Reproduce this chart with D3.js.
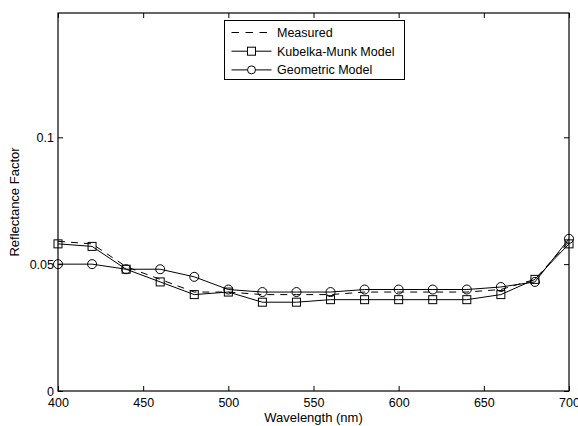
<!DOCTYPE html>
<html>
<head>
<meta charset="utf-8">
<script src="https://cdn.jsdelivr.net/npm/d3@7"></script>
<style>
  body { margin: 0; background: #fff; }
  text { font-family: 'Liberation Sans', Arial, sans-serif; }
</style>
</head>
<body>
<div id="chart"></div>
<script>
var wavelengths = [400, 420, 440, 460, 480, 500, 520, 540, 560, 580, 600, 620, 640, 660, 680, 700]
var measured = [0.059, 0.058, 0.049, 0.044, 0.039, 0.039, 0.038, 0.038, 0.038, 0.039, 0.039, 0.039, 0.039, 0.040, 0.044, 0.059]
var kubelkaMunk = [0.058, 0.057, 0.048, 0.043, 0.038, 0.039, 0.035, 0.035, 0.036, 0.036, 0.036, 0.036, 0.036, 0.038, 0.044, 0.058]
var geometric = [0.050, 0.050, 0.048, 0.048, 0.045, 0.040, 0.039, 0.039, 0.039, 0.040, 0.040, 0.040, 0.040, 0.041, 0.043, 0.060]
var xTicks = [400, 450, 500, 550, 600, 650, 700]
var yTicks = [0, 0.05, 0.1]
var legendLabels = ['Measured', 'Kubelka-Munk Model', 'Geometric Model']

var margin = { top: 13, left: 58, right: 9, bottom: 35 }
var width = 578 - margin.left - margin.right
var height = 426 - margin.top - margin.bottom
var fontSize = 12.5

var svg = d3
  .select('#chart')
  .append('svg')
  .attr('width', 578)
  .attr('height', 426)
  .append('g')
  .attr('transform', 'translate(' + margin.left + ',' + margin.top + ')')

var xScale = d3.scaleLinear().domain([400, 700]).range([0, width])
var yScale = d3.scaleLinear().domain([0, 0.149]).range([height, 0])

// axes, MATLAB style: ticks inward on all four sides
var tickLen = 5
svg.append('g')
  .attr('transform', `translate(0,${height})`)
  .call(d3.axisBottom(xScale).tickValues(xTicks).tickSizeInner(-tickLen).tickSizeOuter(0).tickPadding(7))
svg.append('g')
  .call(d3.axisTop(xScale).tickValues(xTicks).tickSizeInner(-tickLen).tickSizeOuter(0).tickFormat(''))
svg.append('g')
  .call(d3.axisLeft(yScale).tickValues(yTicks).tickSizeInner(-tickLen).tickSizeOuter(0).tickPadding(4)
    .tickFormat(d => (d === 0 ? '0' : String(d))))
svg.append('g')
  .attr('transform', `translate(${width},0)`)
  .call(d3.axisRight(yScale).tickValues(yTicks).tickSizeInner(-tickLen).tickSizeOuter(0).tickFormat(''))

svg.selectAll('.domain').remove()
svg.selectAll('.tick line').attr('stroke', '#000')
svg.selectAll('.tick text').attr('font-size', fontSize).attr('fill', '#000')

svg.append('rect')
  .attr('width', width)
  .attr('height', height)
  .attr('fill', 'none')
  .attr('stroke', '#000')
  .attr('stroke-width', 1.2)

var line = d3.line()
  .x((d, i) => xScale(wavelengths[i]))
  .y(d => yScale(d))

svg.append('path')
  .datum(measured)
  .attr('d', line)
  .attr('fill', 'none')
  .attr('stroke', '#000')
  .attr('stroke-dasharray', '7,6')

svg.append('path')
  .datum(kubelkaMunk)
  .attr('d', line)
  .attr('fill', 'none')
  .attr('stroke', '#000')

svg.append('path')
  .datum(geometric)
  .attr('d', line)
  .attr('fill', 'none')
  .attr('stroke', '#000')

var sq = 8
svg.selectAll('.km-marker')
  .data(kubelkaMunk)
  .enter()
  .append('rect')
  .attr('class', 'km-marker')
  .attr('x', (d, i) => xScale(wavelengths[i]) - sq / 2)
  .attr('y', d => yScale(d) - sq / 2)
  .attr('width', sq)
  .attr('height', sq)
  .attr('fill', 'none')
  .attr('stroke', '#000')

svg.selectAll('.geo-marker')
  .data(geometric)
  .enter()
  .append('circle')
  .attr('class', 'geo-marker')
  .attr('cx', (d, i) => xScale(wavelengths[i]))
  .attr('cy', d => yScale(d))
  .attr('r', 4.5)
  .attr('fill', 'none')
  .attr('stroke', '#000')

// axis labels
svg.append('text')
  .text('Wavelength (nm)')
  .attr('x', width / 2)
  .attr('y', height + 31)
  .attr('text-anchor', 'middle')
  .attr('font-size', 13)

svg.append('text')
  .text('Reflectance Factor')
  .attr('transform', `translate(${-39.5},${height / 2}) rotate(-90)`)
  .attr('text-anchor', 'middle')
  .attr('font-size', 13)

// legend
var legend = svg.append('g').attr('transform', 'translate(166.5,7.5)')
legend.append('rect')
  .attr('width', 180)
  .attr('height', 59)
  .attr('fill', '#fff')
  .attr('stroke', '#000')

legendLabels.forEach((label, i) => {
  var y = 12 + i * 18.7
  var row = legend.append('g').attr('transform', `translate(0,${y})`)
  row.append('line')
    .attr('x1', 7).attr('x2', 47)
    .attr('stroke', '#000')
    .attr('stroke-dasharray', i === 0 ? '7.5,6.5' : null)
  if (i === 1) {
    row.append('rect').attr('x', 27 - sq / 2).attr('y', -sq / 2).attr('width', sq).attr('height', sq)
      .attr('fill', '#fff').attr('stroke', '#000')
  }
  if (i === 2) {
    row.append('circle').attr('cx', 27).attr('cy', 0).attr('r', 4)
      .attr('fill', '#fff').attr('stroke', '#000')
  }
  row.append('text')
    .text(label)
    .attr('x', 52.5)
    .attr('dy', '0.35em')
    .attr('font-size', fontSize)
})
</script>
</body>
</html>
